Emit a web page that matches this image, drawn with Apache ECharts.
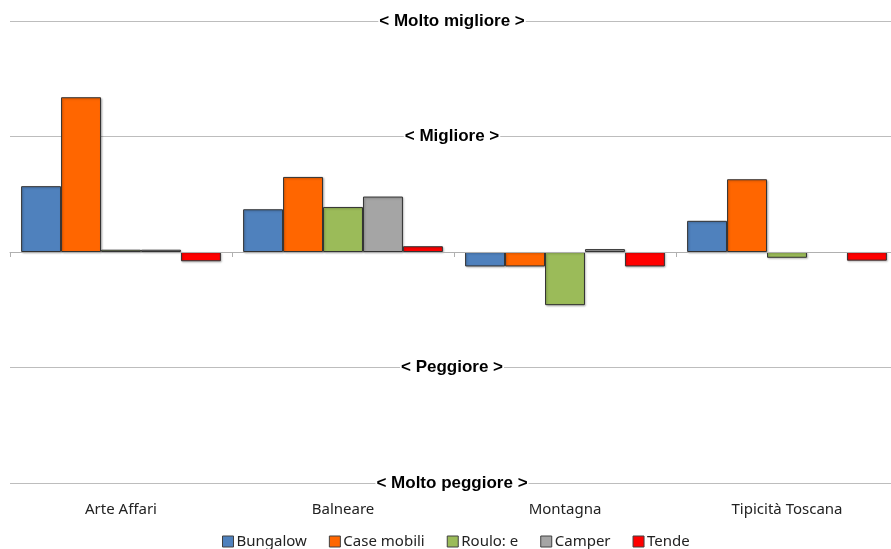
<!DOCTYPE html>
<html>
<head>
<meta charset="utf-8">
<script src="https://cdn.jsdelivr.net/npm/echarts@6/dist/echarts.min.js"></script>
<style>
  html, body { margin: 0; padding: 0; background: #fff; }
  #chart { width: 891px; height: 549px; }
</style>
</head>
<body>
<div id="chart"></div>
<script>
// Variazione attesa per tipologia di alloggio, per prodotto turistico
const categories = ['Arte Affari', 'Balneare', 'Montagna', 'Tipicità Toscana'];
const seriesNames = ['Bungalow', 'Case mobili', 'Roulo: e', 'Camper', 'Tende'];
const bungalow   = [0.57, 0.37, -0.125, 0.27];
const caseMobili = [1.34, 0.65, -0.125, 0.63];
const roulotte   = [0.02, 0.39, -0.46, -0.05];
const camper     = [0.02, 0.48, 0.025, null];
const tende      = [-0.08, 0.05, -0.125, -0.075];
const yTickLabels = ['< Molto peggiore >', '< Peggiore >', '', '< Migliore >', '< Molto migliore >'];
const colors = ['#4F81BD', '#FF6600', '#9BBB59', '#A5A5A5', '#FF0000'];

const values = [bungalow, caseMobili, roulotte, camper, tende];

const chart = echarts.init(document.getElementById('chart'));
chart.setOption({
  animation: false,
  color: colors,
  grid: { left: 10, width: 888, top: 21, bottom: 66, outerBoundsMode: 'none', containLabel: false },
  legend: {
    bottom: -5,
    left: 217,
    icon: 'rect',
    itemWidth: 11,
    itemHeight: 11,
    itemGap: 22,
    itemStyle: { borderColor: '#404040', borderWidth: 1 },
    textStyle: { fontFamily: 'Noto Sans', fontSize: 15, color: '#222', padding: [0, 0, 0, -2] },
    data: seriesNames
  },
  xAxis: [
    {
      type: 'category',
      data: categories,
      axisLine: { onZero: true, lineStyle: { color: '#b0b0b0', width: 1 } },
      axisTick: { show: true, length: 5, lineStyle: { color: '#b0b0b0' } },
      axisLabel: { show: false },
      z: 3
    },
    {
      type: 'category',
      data: categories,
      position: 'bottom',
      axisLine: { show: false, onZero: false },
      axisTick: { show: false },
      axisLabel: { fontFamily: 'Noto Sans', fontSize: 15, color: '#222', margin: 19 }
    }
  ],
  yAxis: {
    type: 'value',
    min: -2,
    max: 2,
    interval: 1,
    axisLine: { show: false },
    axisTick: { show: false },
    splitLine: { lineStyle: { color: '#bdbdbd', width: 1 } },
    axisLabel: {
      align: 'center',
      margin: -442,
      fontFamily: 'Liberation Sans Narrow, Arial Narrow, Liberation Sans, sans-serif',
      fontWeight: 'bold',
      fontSize: 17,
      color: '#000',
      backgroundColor: '#fff',
      padding: [0, 1, 3, 1],
      formatter: function (v) { return yTickLabels[Math.round(v) + 2]; }
    }
  },
  series: seriesNames.map(function (name, i) {
    return {
      name: name,
      type: 'bar',
      xAxisIndex: 0,
      data: values[i],
      barGap: '0%',
      barCategoryGap: '10%',
      itemStyle: {
        borderColor: '#333',
        borderWidth: 1,
        shadowColor: 'rgba(0,0,0,0.25)',
        shadowBlur: 2,
        shadowOffsetX: 1,
        shadowOffsetY: 1
      }
    };
  })
});
</script>
</body>
</html>
